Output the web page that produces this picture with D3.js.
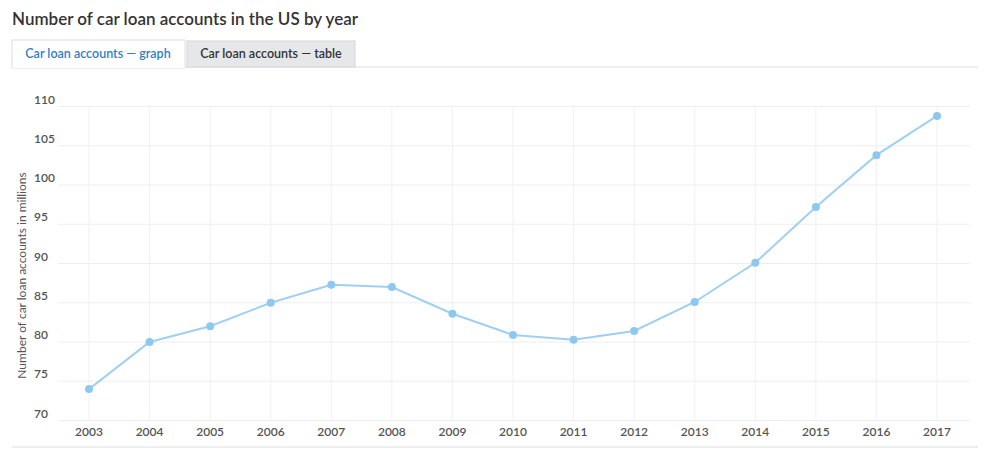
<!DOCTYPE html>
<html><head><meta charset="utf-8">
<script src="https://cdn.jsdelivr.net/npm/d3@7"></script>
<style>
body{margin:0;background:#fff;font-family:Lato,"Open Sans",sans-serif;}
</style></head><body>
<svg id="chart" width="1000" height="452"></svg>
<script>
// data
const years = [2003,2004,2005,2006,2007,2008,2009,2010,2011,2012,2013,2014,2015,2016,2017];
const accounts = [74.0,80.0,82.0,85.0,87.3,87.0,83.6,80.9,80.3,81.4,85.1,90.1,97.2,103.8,108.8];
const yTicks = [70,75,80,85,90,95,100,105,110];

const svg = d3.select("#chart");

// header and tabs
svg.append("text").attr("x", 12).attr("y", 25)
    .attr("font-size", 17).attr("font-weight", 600).attr("fill", "#333")
    .text("Number of car loan accounts in the US by year");
svg.append("line").attr("x1", 12).attr("x2", 978).attr("y1", 67).attr("y2", 67)
    .attr("stroke", "#ddd");
svg.append("rect").attr("x", 187).attr("y", 41).attr("width", 168).attr("height", 26)
    .attr("fill", "#e6e7e9").attr("stroke", "#d6d6d6");
svg.append("rect").attr("x", 12).attr("y", 40).attr("width", 173).attr("height", 28)
    .attr("fill", "#fff").attr("stroke", "#ddd");
svg.append("line").attr("x1", 12.5).attr("x2", 184.5).attr("y1", 67).attr("y2", 67)
    .attr("stroke", "#fff").attr("stroke-width", 2);
svg.append("text").attr("x", 98).attr("y", 58).attr("text-anchor", "middle")
    .attr("font-size", 12.5).attr("font-weight", 600).attr("fill", "#2f80c3")
    .text("Car loan accounts — graph");
svg.append("text").attr("x", 271).attr("y", 58).attr("text-anchor", "middle")
    .attr("font-size", 12.5).attr("font-weight", 600).attr("fill", "#333")
    .text("Car loan accounts — table");

// scales
const x = d3.scalePoint().domain(years).range([89, 937]);
const y = d3.scaleLinear().domain([70, 110]).range([420.5, 106.5]);
const left = 58, right = 970;

// grid
svg.append("g").selectAll("line").data(yTicks).join("line")
    .attr("x1", left).attr("x2", right)
    .attr("y1", d => y(d)).attr("y2", d => y(d))
    .attr("stroke", "#eeeeee");
svg.append("g").selectAll("line").data(years).join("line")
    .attr("x1", d => x(d)).attr("x2", d => x(d))
    .attr("y1", y(110)).attr("y2", y(70))
    .attr("stroke", "#f0f0f0");
svg.append("line").attr("x1", 12).attr("x2", 978).attr("y1", 447).attr("y2", 447)
    .attr("stroke", "#ddd");

// y labels
svg.append("g").selectAll("text").data(yTicks).join("text")
    .attr("x", 34).attr("y", d => y(d) - 3)
    .attr("font-size", 12).attr("font-weight", 600).attr("fill", "#555")
    .text(d => d);
svg.append("text")
    .attr("transform", `translate(26,${(y(70) + y(110)) / 2 + 12}) rotate(-90)`)
    .attr("text-anchor", "middle").attr("font-size", 12).attr("fill", "#555")
    .text("Number of car loan accounts in millions");

// x labels
svg.append("g").selectAll("text").data(years).join("text")
    .attr("x", d => x(d)).attr("y", 436).attr("text-anchor", "middle")
    .attr("font-size", 12).attr("font-weight", 600).attr("fill", "#555")
    .text(d => d);

// line + points
const line = d3.line().x((d, i) => x(years[i])).y(d => y(d));
svg.append("path").datum(accounts).attr("d", line)
    .attr("fill", "none").attr("stroke", "#9fd0f2").attr("stroke-width", 2);
svg.append("g").selectAll("circle").data(accounts).join("circle")
    .attr("cx", (d, i) => x(years[i])).attr("cy", d => y(d)).attr("r", 4)
    .attr("fill", "#8ec8f0");
</script>
</body></html>
